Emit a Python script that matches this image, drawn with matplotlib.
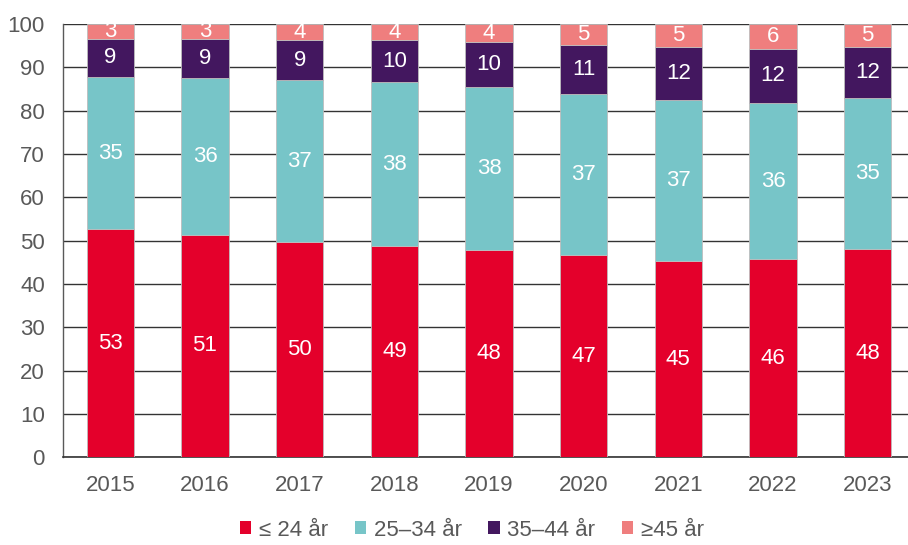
import matplotlib
matplotlib.use("Agg")
import matplotlib.pyplot as plt
import numpy as np

plt.rcParams['font.family'] = ['Liberation Sans', 'DejaVu Sans']

# andel per åldersgrupp (procent), läst ur bilden
years = ["2015", "2016", "2017", "2018", "2019", "2020", "2021", "2022", "2023"]
upp_24 = [52.6, 51.4, 49.6, 48.7, 47.8, 46.6, 45.2, 45.7, 48.1]
ar_25_34 = [35.2, 36.1, 37.4, 37.8, 37.6, 37.3, 37.2, 36.1, 34.9]
ar_35_44 = [8.8, 9.1, 9.2, 9.8, 10.4, 11.3, 12.4, 12.4, 11.8]
over_45 = [3.4, 3.4, 3.8, 3.7, 4.2, 4.8, 5.2, 5.8, 5.2]

series = [upp_24, ar_25_34, ar_35_44, over_45]
names = ["≤ 24 år", "25–34 år", "35–44 år", "≥45 år"]
colors = ["#E4002B", "#77C5C8", "#43175F", "#EF7E7E"]

fig = plt.figure(figsize=(9.08, 5.45), dpi=100)
ax = fig.add_axes([63/908, 87.7/545, 852/908, 433.3/545])

x = np.arange(len(years))
bottom = np.zeros(len(years))
for vals, name, col in zip(series, names, colors):
    vals = np.array(vals)
    ax.bar(x, vals, 0.5, bottom=bottom, color=col, label=name,
           edgecolor="#bdbdbd", linewidth=0.6, zorder=3)
    for xi, b, v in zip(x, bottom, vals):
        ax.text(xi, b + v/2, f"{v:.0f}", ha="center", va="center",
                color="white", fontsize=16, zorder=4)
    bottom += vals

ax.set_xlim(-0.5, 8.5)
ax.set_ylim(0, 100)
ax.set_yticks(range(0, 101, 10))
ax.set_xticks(x)
ax.set_xticklabels(years)
ax.grid(axis="y", color="#333333", linewidth=1.0, zorder=0)
ax.tick_params(length=0, labelsize=16, labelcolor="#595959", pad=13)
for s in ["top", "right"]:
    ax.spines[s].set_visible(False)
ax.spines["left"].set_color("#595959")
ax.spines["bottom"].set_color("#333333")
ax.spines["left"].set_linewidth(1.0)
ax.spines["bottom"].set_linewidth(1.2)

leg = fig.legend(loc="center", bbox_to_anchor=(472/908, 15/545), ncol=4,
                 frameon=False, fontsize=16, handlelength=0.5, handleheight=0.5,
                 handletextpad=0.35, columnspacing=1.2, labelcolor="#595959")
for h in leg.legend_handles:
    h.set_edgecolor("none")

fig.savefig("out.png", dpi=100)
